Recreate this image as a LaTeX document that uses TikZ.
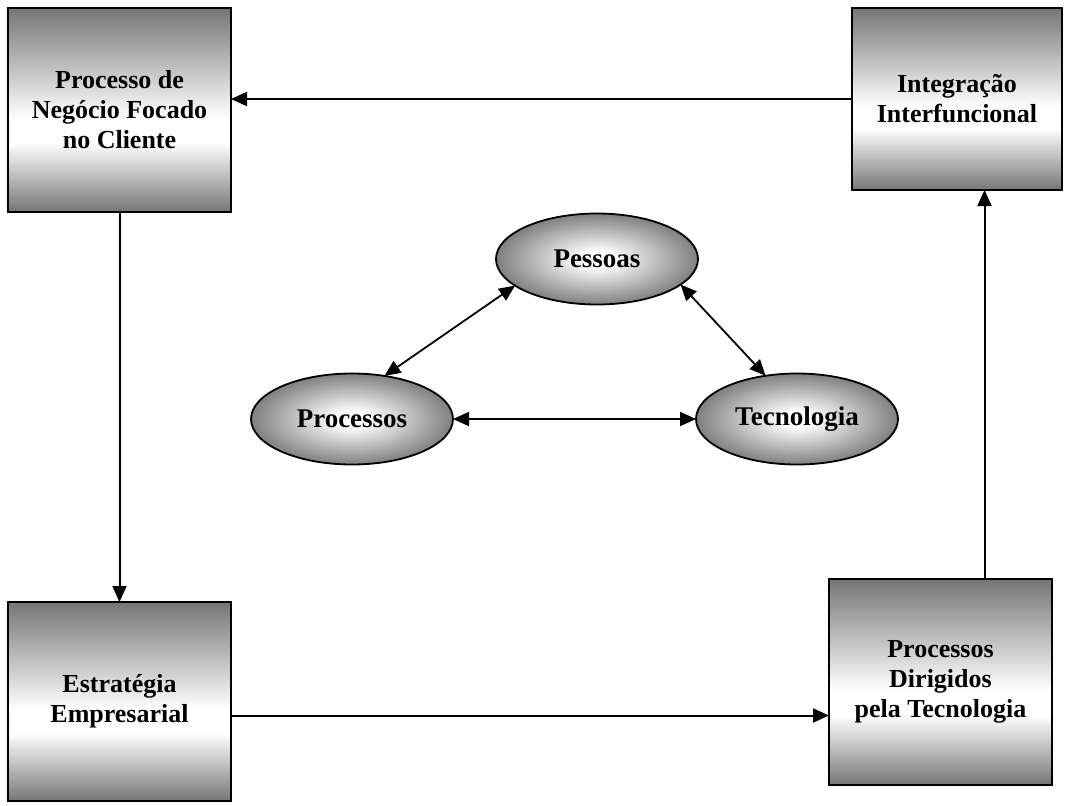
\documentclass[tikz,border=0pt]{standalone}
\usepackage{fontspec}
\setmainfont{Liberation Serif}
\usetikzlibrary{arrows.meta,positioning,shapes.geometric}
\definecolor{boxgray}{gray}{0.46}
\definecolor{ellgray}{gray}{0.5}
\pgfdeclareverticalshading{boxshade}{100bp}{color(0bp)=(boxgray); color(25bp)=(boxgray); color(42bp)=(white); color(48bp)=(white); color(75bp)=(boxgray); color(100bp)=(boxgray)}
\pgfdeclareradialshading{ellshade}{\pgfpoint{0bp}{0bp}}{color(0bp)=(white); color(4bp)=(white); color(25bp)=(ellgray); color(50bp)=(ellgray)}

\begin{document}
\begin{tikzpicture}[
  x=0.5pt, y=-0.5pt,
  every node/.style={font=\fontsize{13}{15}\selectfont\bfseries, align=center, inner sep=0pt, outer sep=0pt},
  bloco/.style={draw, line width=1pt, shade, shading=boxshade},
  elipse/.style={ellipse, draw, line width=0.9pt, shade, shading=ellshade, minimum width=101pt, minimum height=45.5pt, font=\fontsize{13.5}{15}\selectfont\bfseries},
  seta/.style={-{Triangle[length=8pt,width=7pt]}, line width=1pt},
  duplaseta/.style={{Triangle[length=8pt,width=7pt]}-{Triangle[length=8pt,width=7pt]}, line width=0.9pt}
]
\useasboundingbox (0,0) rectangle (1067,805);

\node[bloco, minimum width=111.5pt, minimum height=102pt] (cliente) at (119.5,110) {Processo de\\Negócio Focado\\no Cliente};
\node[bloco, minimum width=105pt, minimum height=91pt] (integracao) at (957,99) {Integração\\Interfuncional};
\node[bloco, minimum width=111.5pt, minimum height=99.5pt] (estrategia) at (119.5,701.5) {Estratégia\\Empresarial};
\node[bloco, minimum width=111.5pt, minimum height=103pt] (dirigidos) at (940.5,682) {Processos\\Dirigidos\\pela Tecnologia};

\node[elipse] (pessoas) at (597,259) {Pessoas};
\node[elipse] (processos) at (352,419) {Processos};
\node[elipse] (tecnologia) at (797,419) {Tecnologia};

\draw[seta] (integracao.west) -- (integracao.west -| cliente.east);
\draw[seta] (cliente.south) -- (estrategia.north);
\coordinate (saidabaixo) at ([yshift=-7pt]estrategia.east);
\draw[seta] (saidabaixo) -- (saidabaixo -| dirigidos.west);
\coordinate (saidadireita) at ([xshift=22pt]dirigidos.north);
\draw[seta] (saidadireita) -- (saidadireita |- integracao.south);

\draw[duplaseta] (pessoas.198) -- (processos.53);
\draw[duplaseta] (pessoas.343) -- (tecnologia.126);
\draw[duplaseta] (processos) -- (tecnologia);

\end{tikzpicture}
\end{document}
